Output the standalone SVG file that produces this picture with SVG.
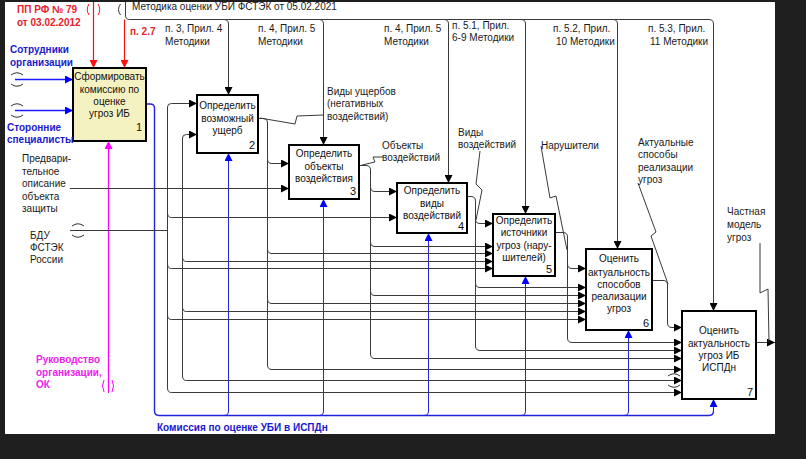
<svg xmlns="http://www.w3.org/2000/svg" width="806" height="459" viewBox="0 0 806 459">
<style>
text{font-family:"Liberation Sans",Arial,sans-serif;font-size:10px;fill:#1a1a1a}
.bt{text-anchor:middle;fill:#111}
.num{font-size:11px;text-anchor:end;fill:#111}
.red{fill:#e8202a;font-weight:bold}
.blue{fill:#1a1acc;font-weight:bold}
.mag{fill:#ee22ee;font-weight:bold}
.c{fill:none;stroke:#3a3a3a;stroke-width:1}
.ca{fill:none;stroke:#3a3a3a;stroke-width:1;marker-end:url(#ak)}
.b{fill:none;stroke:#2222dd;stroke-width:1}
.ba{fill:none;stroke:#2222dd;stroke-width:1;marker-end:url(#ab)}
.box{fill:#fff;stroke:#000;stroke-width:2}
.tun{fill:none;stroke:#333;stroke-width:1}
</style>
<defs>
<marker id="ak" markerUnits="userSpaceOnUse" markerWidth="9" markerHeight="8" refX="8" refY="4" orient="auto"><path d="M0,0 L8,4 L0,8 z" fill="#000"/></marker>
<marker id="ab" markerUnits="userSpaceOnUse" markerWidth="9" markerHeight="8" refX="8" refY="4" orient="auto"><path d="M0,0 L8,4 L0,8 z" fill="#0000ff"/></marker>
<marker id="ar" markerUnits="userSpaceOnUse" markerWidth="9" markerHeight="8" refX="8" refY="4" orient="auto"><path d="M0,0 L8,4 L0,8 z" fill="#ff1010"/></marker>
<marker id="am" markerUnits="userSpaceOnUse" markerWidth="9" markerHeight="8" refX="8" refY="4" orient="auto"><path d="M0,0 L8,4 L0,8 z" fill="#ff00ff"/></marker>
</defs>
<rect x="0" y="0" width="806" height="459" fill="#1f1f1f"/>
<rect x="5" y="2" width="770" height="432" fill="#fff"/>

<g id="connectors">
<!-- methodology control line -->
<path class="c" d="M125.5,2 V15 Q125.5,19.5 129.5,19.5 H709 Q713.5,19.5 713.5,24"/>
<path class="ca" d="M713.5,24 V311"/>
<path class="ca" d="M224,19.5 Q228.5,19.5 228.5,24 V95"/>
<path class="ca" d="M319,19.5 Q323.5,19.5 323.5,24 V145"/>
<path class="ca" d="M444,19.5 Q448.5,19.5 448.5,24 V183"/>
<path class="ca" d="M521,19.5 Q525.5,19.5 525.5,24 V214"/>
<path class="ca" d="M613,19.5 Q617.5,19.5 617.5,24 V249"/>
<path d="M120.5,4 Q116.5,9.5 120.5,15" class="tun"/>
<!-- red controls -->
<path d="M124.5,19.5 V68" fill="none" stroke="#ff1010" stroke-width="1.2" marker-end="url(#ar)"/>
<path d="M93.5,2 V68" fill="none" stroke="#ff1010" stroke-width="1.2" marker-end="url(#ar)"/>
<path d="M89,4 Q85.5,9.5 89,15 M98,4 Q101.5,9.5 98,15" fill="none" stroke="#ff1010" stroke-width="1"/>
<!-- blue inputs to box 1 -->
<path d="M15,79.5 H73" fill="none" stroke="#1a1aff" stroke-width="1.3" marker-end="url(#ab)"/>
<path d="M15,110.5 H73" fill="none" stroke="#1a1aff" stroke-width="1.3" marker-end="url(#ab)"/>
<path class="tun" d="M11,75 Q17,70.5 23,75 M11,84 Q17,88.5 23,84 M11,106 Q17,101.5 23,106 M11,115 Q17,119.5 23,115"/>
<!-- magenta mechanism -->
<path d="M108.5,393 V141" fill="none" stroke="#ff00ff" stroke-width="1.2" marker-end="url(#am)"/>
<path d="M104,380 Q101,386 104,392 M112,380 Q115,386 112,392" fill="none" stroke="#ff00ff" stroke-width="1"/>
<!-- blue mechanisms -->
<path d="M146,104 H150 Q154.5,104 154.5,108 V411 Q154.5,415.5 159,415.5 H709 Q713.5,415.5 713.5,411" fill="none" stroke="#2222dd" stroke-width="1.4"/>
<path class="ba" d="M713.5,411 V399"/>
<path class="ba" d="M224,415.5 Q228.5,415.5 228.5,411 V153"/>
<path class="ba" d="M319,415.5 Q323.5,415.5 323.5,411 V199"/>
<path class="ba" d="M424,415.5 Q428.5,415.5 428.5,411 V233"/>
<path class="ba" d="M521,415.5 Q525.5,415.5 525.5,411 V276"/>
<path class="ba" d="M624,415.5 Q628.5,415.5 628.5,411 V330"/>
<!-- Предварительное описание trunk x=182 -->
<path class="c" d="M70,188.5 H182.5"/>
<path class="c" d="M182.5,138 V376"/>
<path class="ca" d="M182.5,138 Q182.5,134.5 186.5,134.5 H197"/>
<path class="ca" d="M182.5,188.5 H289"/>
<path class="ca" d="M182.5,257 Q182.5,261.5 186.5,261.5 H493"/>
<path class="ca" d="M182.5,307 Q182.5,311.5 186.5,311.5 H586"/>
<path class="ca" d="M182.5,376 Q182.5,380.5 186.5,380.5 H682"/>
<path class="tun" d="M668,376 Q674,371.5 680,376 M668,385 Q674,389.5 680,385"/>
<!-- БДУ trunk x=167 -->
<path class="c" d="M70,230.5 H167.5"/>
<path class="tun" d="M72,226 Q78,221.5 84,226 M72,235 Q78,239.5 84,235"/>
<path class="c" d="M167.5,107 V388"/>
<path class="ca" d="M167.5,107 Q167.5,103.5 171.5,103.5 H197"/>
<path class="ca" d="M167.5,213 Q167.5,217.5 171.5,217.5 H397"/>
<path class="ca" d="M167.5,264 Q167.5,268.5 171.5,268.5 H493"/>
<path class="ca" d="M167.5,315 Q167.5,319.5 171.5,319.5 H586"/>
<path class="ca" d="M167.5,388 Q167.5,392.5 171.5,392.5 H682"/>
<!-- box 2 output x=267 -->
<path class="ca" d="M258,118.5 H263 Q267.5,118.5 267.5,123 V365 Q267.5,369.5 272,369.5 H682"/>
<path class="ca" d="M267.5,159 Q267.5,163.5 272,163.5 H289"/>
<path class="ca" d="M267.5,249 Q267.5,253.5 272,253.5 H493"/>
<path class="ca" d="M267.5,299 Q267.5,303.5 272,303.5 H586"/>
<!-- box 3 output x=370 -->
<path class="ca" d="M359,165.5 H366 Q370.5,165.5 370.5,170 V354 Q370.5,358.5 375,358.5 H682"/>
<path class="ca" d="M370.5,187 Q370.5,191.5 375,191.5 H397"/>
<path class="ca" d="M370.5,242 Q370.5,246.5 375,246.5 H493"/>
<path class="ca" d="M370.5,291 Q370.5,295.5 375,295.5 H586"/>
<!-- box 4 output x=475 -->
<path class="ca" d="M467,196.5 H471 Q475.5,196.5 475.5,201 V346 Q475.5,350.5 480,350.5 H682"/>
<path class="ca" d="M475.5,219 Q475.5,223.5 480,223.5 H493"/>
<path class="ca" d="M475.5,283 Q475.5,287.5 480,287.5 H586"/>
<!-- box 5 output x=567 -->
<path class="ca" d="M555,232.5 H563 Q567.5,232.5 567.5,237 V338 Q567.5,342.5 572,342.5 H682"/>
<path class="ca" d="M567.5,264 Q567.5,268.5 572,268.5 H586"/>
<!-- box 6 output -->
<path class="ca" d="M652,280.5 H663 Q667.5,280.5 667.5,285 V323 Q667.5,327.5 672,327.5 H682"/>
<!-- box 7 output -->
<path class="ca" d="M756,342.5 H775"/>
<!-- squiggle leaders -->
<path class="c" d="M260,118 L295,124 L297,116 L323,115"/>
<path class="c" d="M383,157 L373,157 L375,162 L362,165"/>
<path class="c" d="M480,151 L476,184 L482,190 L476,220"/>
<path class="c" d="M541,146 L550,198 L556,196 L567,250"/>
<path class="c" d="M638,183 L656,232 L651,236 L668,284"/>
<path class="c" d="M760,243 V293 L768,289 L769,342"/>
</g>

<g id="box1"><rect x="73" y="68" width="73" height="73" fill="#f5f2c2" stroke="#000" stroke-width="2"/>
<text class="bt" x="109.5" y="80">Сформировать</text><text class="bt" x="109.5" y="93">комиссию по</text><text class="bt" x="109.5" y="105">оценке</text><text class="bt" x="109.5" y="117">угроз ИБ</text><text class="num" x="142" y="131">1</text></g>
<g id="box2"><rect class="box" x="197" y="95" width="61" height="58"/>
<text class="bt" x="227.5" y="109">Определить</text><text class="bt" x="227.5" y="122">возможный</text><text class="bt" x="227.5" y="134">ущерб</text><text class="num" x="255" y="149">2</text></g>
<g id="box3"><rect class="box" x="289" y="145" width="70" height="54"/>
<text class="bt" x="324" y="157">Определить</text><text class="bt" x="324" y="170">объекты</text><text class="bt" x="324" y="182">воздействия</text><text class="num" x="356" y="195">3</text></g>
<g id="box4"><rect class="box" x="397" y="183" width="70" height="50"/>
<text class="bt" x="432" y="194">Определить</text><text class="bt" x="432" y="207">виды</text><text class="bt" x="432" y="219">воздействий</text><text class="num" x="464" y="230">4</text></g>
<g id="box5"><rect class="box" x="493" y="214" width="62" height="62"/>
<text class="bt" x="524" y="224">Определить</text><text class="bt" x="524" y="236">источники</text><text class="bt" x="524" y="249">угроз (нару-</text><text class="bt" x="524" y="261">шителей)</text><text class="num" x="552" y="273">5</text></g>
<g id="box6"><rect class="box" x="586" y="249" width="66" height="81"/>
<text class="bt" x="619" y="262">Оценить</text><text class="bt" x="619" y="276">актуальность</text><text class="bt" x="619" y="288">способов</text><text class="bt" x="619" y="300">реализации</text><text class="bt" x="619" y="312">угроз</text><text class="num" x="649" y="327">6</text></g>
<g id="box7"><rect class="box" x="682" y="311" width="74" height="88"/>
<text class="bt" x="719" y="334">Оценить</text><text class="bt" x="719" y="347">актуальность</text><text class="bt" x="719" y="359">угроз ИБ</text><text class="bt" x="719" y="371">ИСПДн</text><text class="num" x="753" y="396">7</text></g>

<g id="labels">
<text class="red" x="17" y="13">ПП РФ № 79</text>
<text class="red" x="17" y="26">от 03.02.2012</text>
<text class="red" x="130" y="35">п. 2.7</text>
<text x="132" y="10">Методика оценки УБИ ФСТЭК от 05.02.2021</text>
<text x="165" y="32">п. 3, Прил. 4</text><text x="165" y="45">Методики</text>
<text x="258" y="32">п. 4, Прил. 5</text><text x="258" y="45">Методики</text>
<text x="384" y="32">п. 4, Прил. 5</text><text x="384" y="45">Методики</text>
<text x="452" y="29">п. 5.1, Прил.</text><text x="452" y="41">6-9 Методики</text>
<text x="553" y="32">п. 5.2, Прил.</text><text x="556" y="45">10 Методики</text>
<text x="648" y="32">п. 5.3, Прил.</text><text x="650" y="45">11 Методики</text>
<text class="blue" x="10" y="53">Сотрудники</text><text class="blue" x="10" y="66">организации</text>
<text class="blue" x="7" y="131">Сторонние</text><text class="blue" x="7" y="143">специалисты</text>
<text x="22" y="162">Предвари-</text><text x="22" y="175">тельное</text><text x="22" y="187">описание</text><text x="22" y="200">объекта</text><text x="22" y="212">защиты</text>
<text x="30" y="239">БДУ</text><text x="30" y="251">ФСТЭК</text><text x="30" y="263">России</text>
<text class="mag" x="36" y="363">Руководство</text><text class="mag" x="36" y="376">организации,</text><text class="mag" x="36" y="388">ОК</text>
<text class="blue" x="157" y="431">Комиссия по оценке УБИ в ИСПДн</text>
<text x="327" y="95">Виды ущербов</text><text x="327" y="107">(негативных</text><text x="327" y="120">воздействий)</text>
<text x="382" y="149">Объекты</text><text x="382" y="161">воздействий</text>
<text x="458" y="136">Виды</text><text x="458" y="148">воздействий</text>
<text x="541" y="149">Нарушители</text>
<text x="638" y="146">Актуальные</text><text x="638" y="158">способы</text><text x="638" y="171">реализации</text><text x="638" y="183">угроз</text>
<text x="727" y="215">Частная</text><text x="727" y="228">модель</text><text x="727" y="241">угроз</text>
</g>
</svg>
